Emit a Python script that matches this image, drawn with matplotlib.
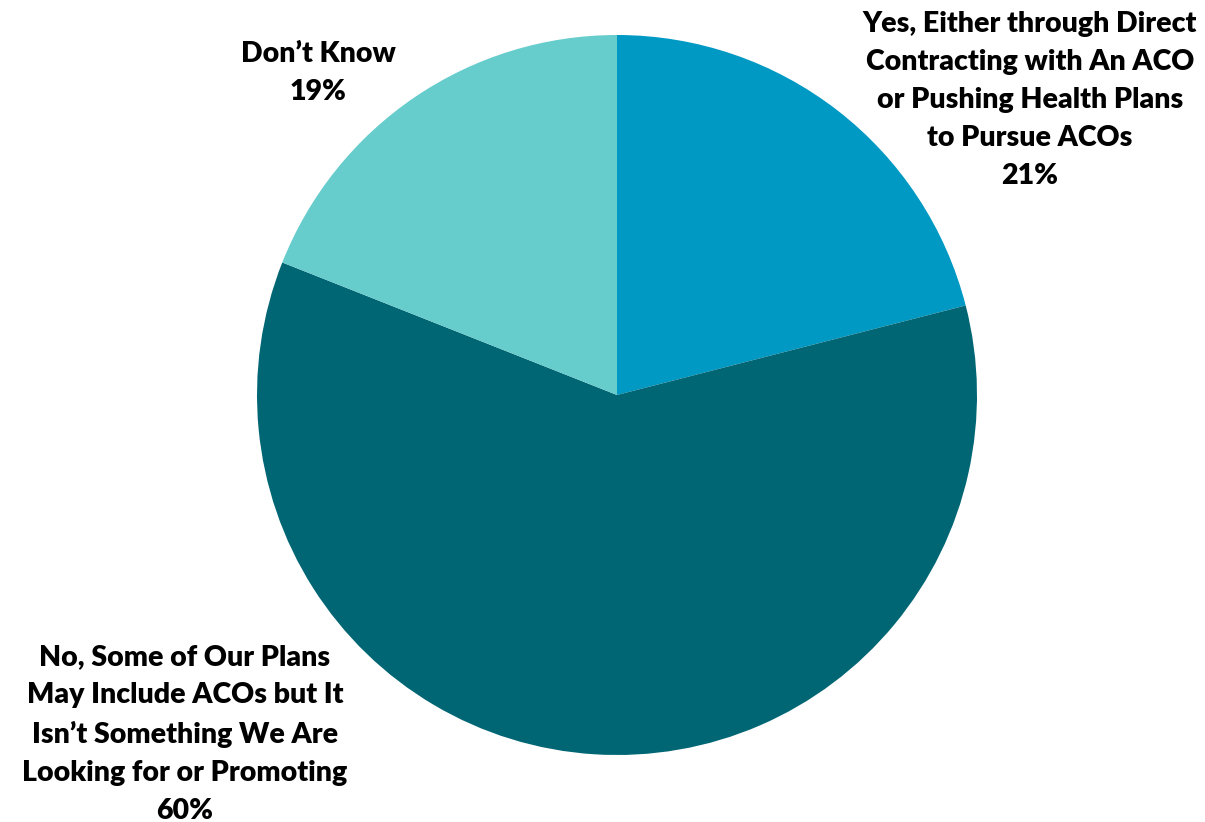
import matplotlib
matplotlib.use("Agg")
import matplotlib.pyplot as plt

labels = [
    "Yes, Either through Direct\nContracting with An ACO\nor Pushing Health Plans\nto Pursue ACOs",
    "No, Some of Our Plans\nMay Include ACOs but It\nIsn\u2019t Something We Are\nLooking for or Promoting",
    "Don\u2019t Know",
]
values = [21, 60, 19]
colors = ["#0099C4", "#006674", "#66CCCC"]

plt.rcParams['font.family'] = ['Lato', 'DejaVu Sans']

W, H = 1205, 822
fig = plt.figure(figsize=(W / 100, H / 100), dpi=100)

cx, cy, r = 617, 395, 360
ax = fig.add_axes([(cx - r) / W, (H - cy - r) / H, 2 * r / W, 2 * r / H])
ax.pie(values, colors=colors, startangle=90, counterclock=False, radius=1,
       wedgeprops=dict(linewidth=0))
ax.set_xlim(-1, 1)
ax.set_ylim(-1, 1)
ax.set_aspect('equal')
ax.axis('off')

# label positions in pixels (center x, top y)
label_pos = [(1030, 11), (185, 644), (318, 41)]
for lab, v, (x, y) in zip(labels, values, label_pos):
    fig.text(x / W, 1 - y / H, f"{lab}\n{v}%", ha='center', va='top',
             fontsize=20.5, fontweight='heavy', linespacing=1.57, color='black')

fig.savefig("out.png", dpi=100)
